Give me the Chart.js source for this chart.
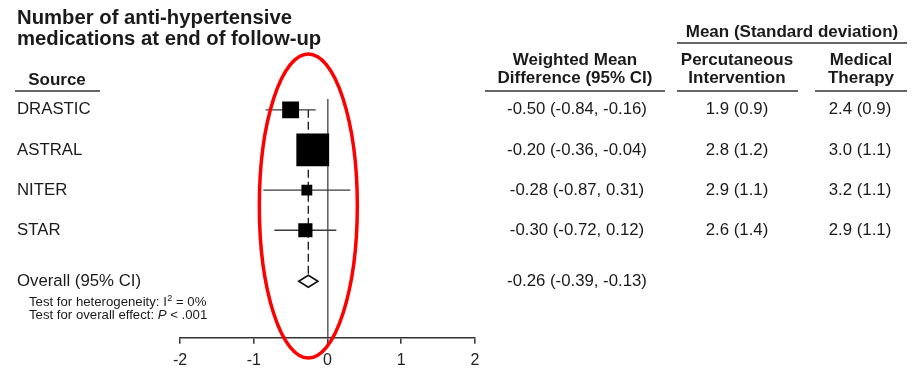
<!DOCTYPE html>
<html>
<head>
<meta charset="utf-8">
<title>Anti-hypertensive medications forest plot</title>
<script src="https://cdn.jsdelivr.net/npm/chart.js@4.4.1/dist/chart.umd.min.js"></script>
<style>
    html, body { margin: 0; padding: 0; background: #fff; overflow: hidden; }
    #wrap { position: relative; width: 912px; height: 380px; }
</style>
</head>
<body>
<div id="wrap"><canvas id="forestChart"></canvas></div>
<script>
// ---- data ----
const studies = ['DRASTIC', 'ASTRAL', 'NITER', 'STAR'];
const wmd = [-0.50, -0.20, -0.28, -0.30];
const ciLow = [-0.84, -0.36, -0.87, -0.72];
const ciHigh = [-0.16, -0.04, 0.31, 0.12];
const weights = [17, 64, 7, 12];            // % weight
const pciMean = [1.9, 2.8, 2.9, 2.6];
const pciSd = [0.9, 1.2, 1.1, 1.4];
const medMean = [2.4, 3.0, 3.2, 2.9];
const medSd = [0.9, 1.1, 1.1, 1.1];
const overallLabel = 'Overall (95% CI)';
const overallWmd = -0.26;
const overallLow = -0.39;
const overallHigh = -0.13;
const xTicks = [-2, -1, 0, 1, 2];

const titleLines = ['Number of anti-hypertensive', 'medications at end of follow-up'];

// layout
const FONT = '"Liberation Sans", Arial, Helvetica, sans-serif';
const overallRow = 4.27;
const rows = studies.map((s, i) => i);

const fmt2 = v => v.toFixed(2);
const ciText = (m, lo, hi) => `${fmt2(m)} (${fmt2(lo)}, ${fmt2(hi)})`;
const sdText = (m, sd) => `${m.toFixed(1)} (${sd.toFixed(1)})`;

// square side grows with sqrt(weight); rect point side = sqrt(2) * radius
const squareRadius = weights.map(w => 4.1 * Math.sqrt(w) / Math.SQRT2);

const whiskers = studies.map((s, i) => ({
    type: 'line',
    data: [{ x: ciLow[i], y: i }, { x: ciHigh[i], y: i }],
    borderColor: '#3a3a3a',
    borderWidth: 1.3,
    pointRadius: 0,
    order: 2
}));

const forestText = {
    id: 'forestText',
    afterDatasetsDraw(chart) {
        const ctx = chart.ctx;
        const xs = chart.scales.x, ys = chart.scales.y;
        const yo = ys.getPixelForValue(overallRow);
        const cx = xs.getPixelForValue(overallWmd);
        // overall diamond
        ctx.save();
        ctx.beginPath();
        ctx.moveTo(xs.getPixelForValue(overallLow), yo);
        ctx.lineTo(cx, yo - 6);
        ctx.lineTo(xs.getPixelForValue(overallHigh), yo);
        ctx.lineTo(cx, yo + 6);
        ctx.closePath();
        ctx.fillStyle = '#fff';
        ctx.fill();
        ctx.lineWidth = 1.6;
        ctx.strokeStyle = '#111';
        ctx.stroke();
        ctx.restore();
    },
    afterDraw(chart) {
        const ctx = chart.ctx;
        const xs = chart.scales.x, ys = chart.scales.y;
        ctx.save();
        ctx.fillStyle = '#1a1a1a';
        ctx.textBaseline = 'middle';

        // title
        ctx.textAlign = 'left';
        ctx.font = `bold 20.3px ${FONT}`;
        ctx.fillText(titleLines[0], 17, 18);
        ctx.fillText(titleLines[1], 17, 39);

        // column headers
        ctx.font = `bold 17px ${FONT}`;
        ctx.textAlign = 'center';
        ctx.fillText('Source', 57, 80);
        ctx.fillText('Mean (Standard deviation)', 792, 32);
        ctx.fillText('Weighted Mean', 575, 60);
        ctx.fillText('Difference (95% CI)', 575, 78);
        ctx.fillText('Percutaneous', 737, 60);
        ctx.fillText('Intervention', 737, 78);
        ctx.fillText('Medical', 861, 60);
        ctx.fillText('Therapy', 861, 78);

        ctx.strokeStyle = '#333';
        ctx.lineWidth = 1.6;
        [[15, 100, 91], [677, 907, 43], [485, 665, 91], [677, 798, 91], [815, 907, 91]].forEach(([a, b, y]) => {
            ctx.beginPath();
            ctx.moveTo(a, y);
            ctx.lineTo(b, y);
            ctx.stroke();
        });

        // study rows
        ctx.font = `16.8px ${FONT}`;
        studies.forEach((s, i) => {
            const y = ys.getPixelForValue(rows[i]);
            ctx.textAlign = 'left';
            ctx.fillText(s, 17, y);
            ctx.textAlign = 'center';
            ctx.fillText(ciText(wmd[i], ciLow[i], ciHigh[i]), 577, y);
            ctx.fillText(sdText(pciMean[i], pciSd[i]), 737, y);
            ctx.fillText(sdText(medMean[i], medSd[i]), 860, y);
        });

        // overall row
        const yo = ys.getPixelForValue(overallRow);
        ctx.textAlign = 'left';
        ctx.fillText(overallLabel, 17, yo);
        ctx.textAlign = 'center';
        ctx.fillText(ciText(overallWmd, overallLow, overallHigh), 577, yo);

        ctx.textAlign = 'left';
        ctx.font = `13.2px ${FONT}`;
        const x0 = 29;
        const l1 = 'Test for heterogeneity: I';
        ctx.fillText(l1, x0, yo + 21);
        let w = ctx.measureText(l1).width;
        ctx.font = `9px ${FONT}`;
        ctx.fillText('2', x0 + w + 0.5, yo + 17);
        const w2 = ctx.measureText('2').width;
        ctx.font = `13.2px ${FONT}`;
        ctx.fillText(' = 0%', x0 + w + w2 + 0.5, yo + 21);

        const l2 = 'Test for overall effect: ';
        ctx.fillText(l2, x0, yo + 34);
        w = ctx.measureText(l2).width;
        ctx.font = `italic 13.2px ${FONT}`;
        ctx.fillText('P', x0 + w, yo + 34);
        const wp = ctx.measureText('P').width;
        ctx.font = `13.2px ${FONT}`;
        ctx.fillText(' < .001', x0 + w + wp, yo + 34);

        // red highlight ellipse
        ctx.beginPath();
        ctx.ellipse(xs.getPixelForValue(overallWmd), 206, 49, 152, 0, 0, Math.PI * 2);
        ctx.strokeStyle = '#f00';
        ctx.lineWidth = 3.5;
        ctx.stroke();
        ctx.restore();
    }
};

new Chart(document.getElementById('forestChart'), {
    data: {
        datasets: [
            {
                type: 'scatter',
                data: studies.map((s, i) => ({ x: wmd[i], y: rows[i] })),
                pointStyle: 'rect',
                pointRadius: squareRadius,
                pointHoverRadius: squareRadius,
                backgroundColor: '#000',
                borderColor: '#000',
                borderWidth: 0,
                order: 0
            },
            ...whiskers,
            {
                type: 'line',
                data: [{ x: overallWmd, y: 0 }, { x: overallWmd, y: overallRow }],
                borderColor: '#222',
                borderWidth: 1.4,
                borderDash: [8, 4],
                pointRadius: 0,
                order: 3
            }
        ]
    },
    options: {
        responsive: true,
        maintainAspectRatio: false,
        animation: false,
        events: [],
        layout: { padding: { left: 180, right: 437, top: 99, bottom: 3 } },
        plugins: { legend: { display: false }, tooltip: { enabled: false } },
        scales: {
            x: {
                type: 'linear',
                min: -2,
                max: 2,
                afterBuildTicks: axis => { axis.ticks = xTicks.map(v => ({ value: v })); },
                ticks: { color: '#222', font: { family: FONT, size: 16 }, padding: 7 },
                grid: {
                    drawOnChartArea: true,
                    color: c => (c.tick && c.tick.value === 0 ? '#666' : 'rgba(0,0,0,0)'),
                    lineWidth: 1.6,
                    tickColor: '#333',
                    tickWidth: 1.5,
                    tickLength: 6
                },
                border: { display: true, color: '#333', width: 1.5 }
            },
            y: {
                type: 'linear',
                display: false,
                reverse: true,
                min: -0.27,
                max: 5.68
            }
        }
    },
    plugins: [forestText]
});
</script>
</body>
</html>
